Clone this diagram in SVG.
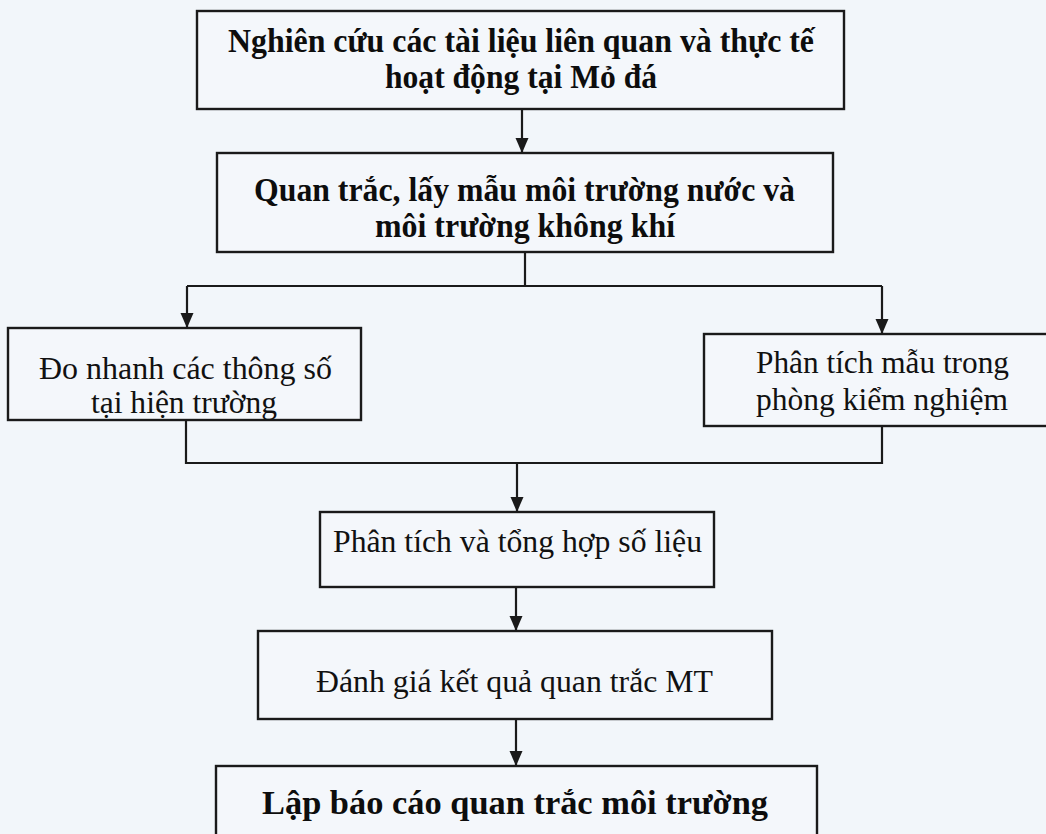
<svg xmlns="http://www.w3.org/2000/svg" width="1046" height="834" viewBox="0 0 1046 834">
<defs>
<style>
.box{fill:#f4f7fb;stroke:#1a1a1a;stroke-width:2.4}
.ln{fill:none;stroke:#1a1a1a;stroke-width:2.2}
.b{font-family:"Liberation Serif","Times New Roman",serif;font-weight:bold;font-size:33.5px;fill:#0d0d0d;text-anchor:middle}
.r{font-family:"Liberation Serif","Times New Roman",serif;font-size:32px;fill:#111;text-anchor:middle}
</style>
<marker id="a" markerUnits="userSpaceOnUse" markerWidth="16" markerHeight="14" refX="15" refY="7" orient="auto" viewBox="0 0 16 14">
<path d="M0,0.5 L15,7 L0,13.5 Z" fill="#1a1a1a"/>
</marker>
</defs>
<rect width="1046" height="834" fill="#f2f6fa"/>
<g id="connectors">
<path class="ln" d="M522,109 V153" marker-end="url(#a)"/>
<path class="ln" d="M525,252 V286"/>
<path class="ln" d="M187,286 H882"/>
<path class="ln" d="M187,286 V328" marker-end="url(#a)"/>
<path class="ln" d="M882,286 V334" marker-end="url(#a)"/>
<path class="ln" d="M186,420 V463 H882 V426"/>
<path class="ln" d="M517,463 V512" marker-end="url(#a)"/>
<path class="ln" d="M516,587 V631" marker-end="url(#a)"/>
<path class="ln" d="M516,719 V766" marker-end="url(#a)"/>
</g>
<g id="n1">
<rect class="box" x="197" y="11" width="647" height="98"/>
<text class="b" x="521" y="52" textLength="586" lengthAdjust="spacingAndGlyphs">Nghiên cứu các tài liệu liên quan và thực tế</text>
<text class="b" x="521" y="88" textLength="272" lengthAdjust="spacingAndGlyphs">hoạt động tại Mỏ đá</text>
</g>
<g id="n2">
<rect class="box" x="217" y="153" width="616" height="99"/>
<text class="b" x="524.5" y="201" textLength="541" lengthAdjust="spacingAndGlyphs">Quan trắc, lấy mẫu môi trường nước và</text>
<text class="b" x="525" y="237" textLength="300" lengthAdjust="spacingAndGlyphs">môi trường không khí</text>
</g>
<g id="n3">
<rect class="box" x="8" y="328" width="353" height="92"/>
<text class="r" x="185.5" y="379" textLength="293" lengthAdjust="spacingAndGlyphs">Đo nhanh các thông số</text>
<text class="r" x="184" y="413" textLength="186" lengthAdjust="spacingAndGlyphs">tại hiện trường</text>
</g>
<g id="n4">
<rect class="box" x="704" y="334" width="360" height="92"/>
<text class="r" x="882.5" y="373" textLength="253" lengthAdjust="spacingAndGlyphs">Phân tích mẫu trong</text>
<text class="r" x="882" y="410" textLength="252" lengthAdjust="spacingAndGlyphs">phòng kiểm nghiệm</text>
</g>
<g id="n5">
<rect class="box" x="320" y="512" width="394" height="75"/>
<text class="r" x="517.5" y="552" textLength="369" lengthAdjust="spacingAndGlyphs">Phân tích và tổng hợp số liệu</text>
</g>
<g id="n6">
<rect class="box" x="258" y="631" width="514" height="88"/>
<text class="r" x="514.5" y="692" textLength="397" lengthAdjust="spacingAndGlyphs">Đánh giá kết quả quan trắc MT</text>
</g>
<g id="n7">
<rect class="box" x="216" y="766" width="601" height="90"/>
<text class="b" x="515" y="814" textLength="506" lengthAdjust="spacingAndGlyphs">Lập báo cáo quan trắc môi trường</text>
</g>
</svg>
